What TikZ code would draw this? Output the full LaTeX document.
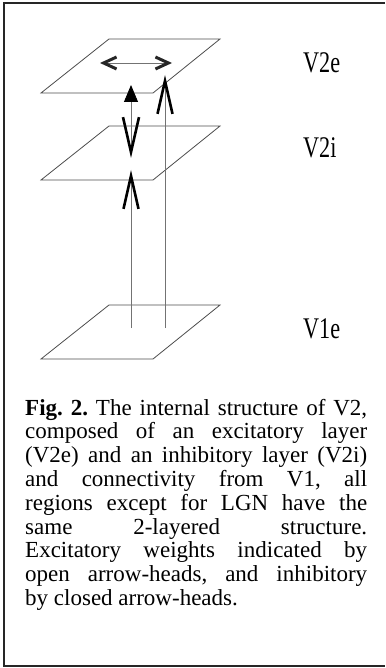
\documentclass[tikz,border=0pt]{standalone}
\usepackage{fontspec}
\setmainfont{Liberation Serif}
\usepackage{graphicx}
\usetikzlibrary{arrows.meta, positioning}

\begin{document}
\begin{tikzpicture}[
  x=1pt, y=-1pt,
  plane/.style={draw=black!70, line width=0.8pt},
  wire/.style={draw=black!55, line width=0.9pt},
  exc/.style={-{Straight Barb[length=33pt, width=15pt, line width=2.6pt, color=black]}},
  excinh/.style={{Straight Barb[length=35pt, width=16pt, line width=2.6pt, color=black]}-{Triangle[length=17pt, width=14pt, color=black]}},
  lateral/.style={{Straight Barb[length=13pt, width=12pt, line width=3pt, color=black!85]}-{Straight Barb[length=13pt, width=12pt, line width=3pt, color=black!85]}},
  layer/.style={anchor=base west, inner sep=0pt, font=\fontsize{30}{30}\selectfont},
  caption/.style={anchor=base west, inner sep=0pt, text width=342pt, align=justify,
    font=\fontsize{23}{23.8}\selectfont}
]
\useasboundingbox (0,0) rectangle (385,668);
% Frame
\draw[line width=1.5pt, black!85] (385,3) -- (4,3) -- (4,666) -- (385,666);
% Layers
\foreach \b in {93,180,359}
  \draw[plane] (41,\b) -- (153,\b) -- (220,\b-54) -- (109,\b-54) -- cycle;
% Nodes
\node[layer] (V2e) at (303,73) {\scalebox{0.74}[1]{V2e}};
\node[layer] (V2i) at (303,158) {\scalebox{0.74}[1]{V2i}};
\node[layer] (V1e) at (303,338) {\scalebox{0.74}[1]{V1e}};
\coordinate (v1a) at (131,328);
\coordinate (v1b) at (165,328);
\coordinate (v2ia) at (131,170);
\coordinate (v2ib) at (131,158);
\coordinate (v2ea) at (131,85);
\coordinate (v2eb) at (165,75);
\coordinate (latl) at (100,63);
\coordinate (latr) at (172,63);
% Arrows
\draw[wire, exc] (v1a) -- (v2ia);
\draw[wire, exc] (v1b) -- (v2eb);
\draw[wire, excinh] (v2ib) -- (v2ea);
\draw[wire, lateral] (latl) -- (latr);
% Caption
\node[caption] (cap) at (25,415) {\frenchspacing\tolerance=10000 \hbadness=10000
\textbf{Fig. 2.} The internal structure of V2,\linebreak
composed of an excitatory layer\linebreak
(V2e) and an inhibitory layer (V2i)\linebreak
and connectivity from V1, all\linebreak
regions except for LGN have the\linebreak
same 2-layered structure.\linebreak
Excitatory weights indicated by\linebreak
open arrow-heads, and inhibitory\linebreak
by closed arrow-heads.};
\end{tikzpicture}
\end{document}
